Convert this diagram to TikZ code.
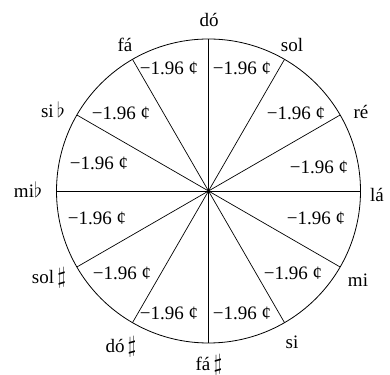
\documentclass[tikz,border=0pt]{standalone}
\usepackage{fix-cm}
\usepackage{fontspec}
\setmainfont{Liberation Serif}
\newcommand{\shp}{{\fontsize{23}{26}\selectfont$\sharp$}}
\newcommand{\flt}{{\fontsize{21}{24}\selectfont$\flat$}}
\begin{document}
\begin{tikzpicture}[x=1pt,y=1pt,
  lbl/.style={font=\fontsize{19}{22}\selectfont, inner sep=0pt},
  val/.style={font=\fontsize{19}{22}\selectfont, inner sep=0pt},
  ray/.style={line width=0.7pt}]
\useasboundingbox (0,0) rectangle (390,374);
\coordinate (c) at (208.5,183);
\node[draw, circle, line width=0.8pt, minimum size=304pt, inner sep=0pt] (circ) at (c) {};
\foreach \a in {0,30,...,330} {
  \draw[ray] (c) -- ++(\a:152);
}
% note labels
\node[lbl] (do) at (209,354) {dó};
\node[lbl] (sol) at (292,329) {sol};
\node[lbl] (re) at (361,262) {ré};
\node[lbl] (la) at (377,179) {lá};
\node[lbl] (mi) at (358,94) {mi};
\node[lbl] (si) at (292,32) {si};
\node[lbl] (fas) at (209,9) {fá\,\shp};
\node[lbl] (dos) at (121,27) {dó\,\shp};
\node[lbl] (sols) at (49,96) {sol\,\shp};
\node[lbl] (mib) at (28,184) {mi\flt};
\node[lbl] (sib) at (53,264) {si\,\flt};
\node[lbl] (fa) at (125,329) {fá};
% values
\node[val] (v1) at (242,306) {−1.96 ¢};
\node[val] (v2) at (169,306) {−1.96 ¢};
\node[val] (v3) at (296,261) {−1.96 ¢};
\node[val] (v4) at (121,261) {−1.96 ¢};
\node[val] (v5) at (319,207) {−1.96 ¢};
\node[val] (v6) at (99,211) {−1.96 ¢};
\node[val] (v7) at (316,156) {−1.96 ¢};
\node[val] (v8) at (97,156) {−1.96 ¢};
\node[val] (v9) at (293,101) {−1.96 ¢};
\node[val] (v10) at (122,101) {−1.96 ¢};
\node[val] (v11) at (242,61) {−1.96 ¢};
\node[val] (v12) at (169,61) {−1.96 ¢};
\end{tikzpicture}
\end{document}
